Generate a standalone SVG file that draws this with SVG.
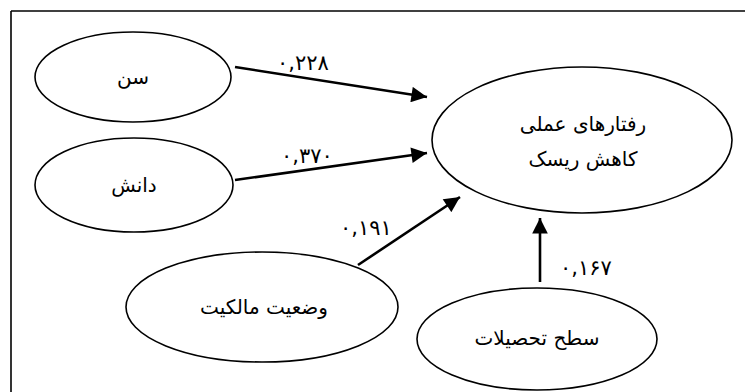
<svg xmlns="http://www.w3.org/2000/svg" width="745" height="392" viewBox="0 0 745 392">
<style>
.node ellipse{fill:#fff;stroke:#000;stroke-width:1.6}
.t{font-family:"DejaVu Sans","Noto Sans",sans-serif;font-size:20px;fill:#000;text-anchor:middle}
.lbl{font-family:"DejaVu Sans","Noto Sans",sans-serif;font-size:21px;fill:#000;text-anchor:middle}
.conn line{stroke:#000;stroke-width:2.6}
</style>
<defs>
<marker id="ah" viewBox="0 0 10 10" refX="10" refY="5" markerWidth="6.5" markerHeight="6" markerUnits="strokeWidth" orient="auto">
<path d="M0,0 L10,5 L0,10 Z" fill="#000"/>
</marker>
</defs>
<rect width="745" height="392" fill="#fff"/>
<g id="frame" stroke="#000" stroke-width="1.6" fill="none">
<line x1="11" y1="11" x2="745" y2="11"/>
<line x1="11" y1="11" x2="11" y2="392"/>
</g>
<g id="connectors" class="conn">
<line x1="235" y1="67" x2="427" y2="97" marker-end="url(#ah)"/>
<line x1="235" y1="180" x2="427" y2="153" marker-end="url(#ah)"/>
<line x1="358" y1="265" x2="460" y2="197" marker-end="url(#ah)"/>
<line x1="540" y1="282" x2="540" y2="218" marker-end="url(#ah)"/>
<text class="lbl" x="303" y="70" direction="ltr">۰,۲۲۸</text>
<text class="lbl" x="307" y="163" direction="ltr">۰,۳۷۰</text>
<text class="lbl" x="366" y="235" direction="ltr">۰,۱۹۱</text>
<text class="lbl" x="586" y="275" direction="ltr">۰,۱۶۷</text>
</g>
<g id="n-sen" class="node">
<ellipse cx="133" cy="77" rx="98" ry="45"/>
<text class="t" x="133" y="84">سن</text>
</g>
<g id="n-danesh" class="node">
<ellipse cx="134" cy="185" rx="99" ry="47"/>
<text class="t" x="134" y="192">دانش</text>
</g>
<g id="n-malekiat" class="node">
<ellipse cx="262" cy="307" rx="136" ry="55"/>
<text class="t" x="264" y="314">وضعیت مالکیت</text>
</g>
<g id="n-tahsilat" class="node">
<ellipse cx="537" cy="339" rx="120" ry="51"/>
<text class="t" x="537" y="345">سطح تحصیلات</text>
</g>
<g id="n-raftar" class="node">
<ellipse cx="582" cy="140" rx="150" ry="73"/>
<text class="t" x="583" y="131">رفتارهای عملی</text>
<text class="t" x="583" y="166">کاهش ریسک</text>
</g>
</svg>
